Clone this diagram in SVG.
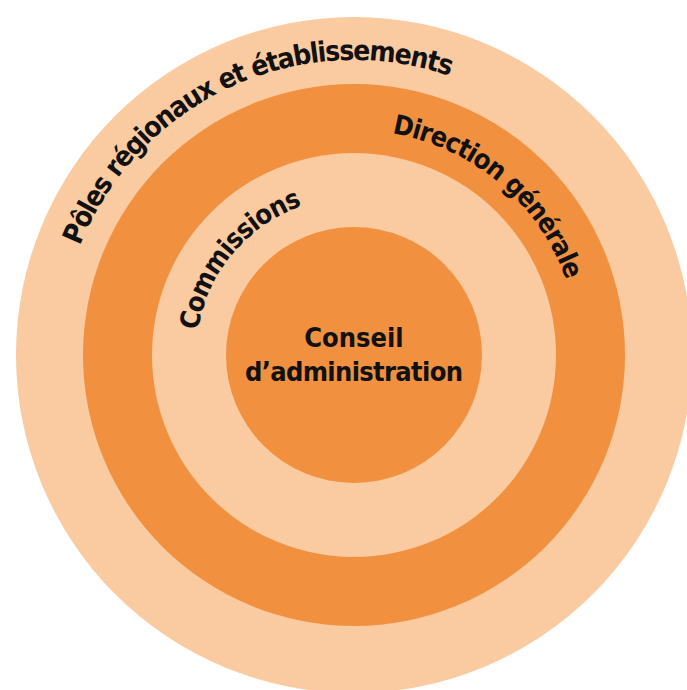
<svg xmlns="http://www.w3.org/2000/svg" width="687" height="690" viewBox="0 0 687 690">
  <style>
    .light { fill: #FACAA0; }
    .dark { fill: #F1913F; }
    .lbl { font-family: "DejaVu Sans Condensed", "DejaVu Sans", sans-serif; font-stretch: condensed; font-weight: bold; fill: #111; }
  </style>
  <defs>
    <path id="pOuter" d="M 59,355 A 295 295 0 0 1 649,355"/>
    <path id="pDir" d="M 129,355 A 225 225 0 0 1 579,355"/>
    <path id="pCom" d="M 196,355 A 158 158 0 0 1 512,355"/>
  </defs>
  <rect width="687" height="690" fill="#ffffff"/>
  <g id="poles">
    <circle class="light" cx="354" cy="355" r="338"/>
    <text class="lbl" font-size="28"><textPath href="#pOuter" startOffset="336.5" text-anchor="middle" textLength="449" lengthAdjust="spacing">Pôles régionaux et établissements</textPath></text>
  </g>
  <g id="direction">
    <circle class="dark" cx="354" cy="355" r="271"/>
    <text class="lbl" font-size="27"><textPath href="#pDir" startOffset="510.9" text-anchor="middle" textLength="239" lengthAdjust="spacing">Direction générale</textPath></text>
  </g>
  <g id="commissions">
    <circle class="light" cx="354" cy="355" r="202"/>
    <text class="lbl" font-size="27"><textPath href="#pCom" startOffset="110" text-anchor="middle" textLength="171" lengthAdjust="spacing">Commissions</textPath></text>
  </g>
  <g id="conseil">
    <circle class="dark" cx="354" cy="355" r="128"/>
    <text class="lbl" font-size="27" text-anchor="middle"><tspan x="354" y="347">Conseil</tspan><tspan x="354" y="381" textLength="218" lengthAdjust="spacing">d’administration</tspan></text>
  </g>
  <g id="connectors"/>
</svg>
